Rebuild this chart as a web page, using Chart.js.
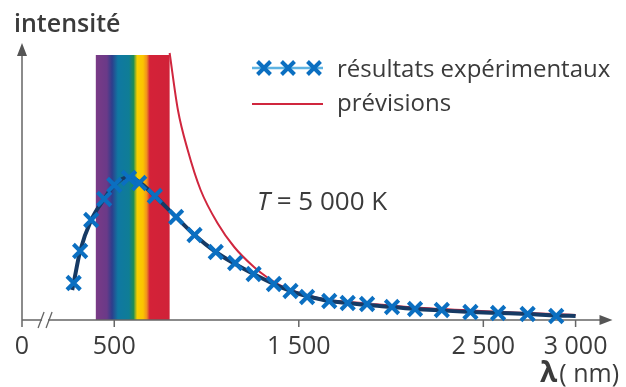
<!DOCTYPE html>
<html lang="fr">
<head>
<meta charset="utf-8">
<title>Rayonnement du corps noir</title>
<script src="https://cdn.jsdelivr.net/npm/chart.js@4.4.1/dist/chart.umd.min.js"></script>
<style>
  html, body { margin: 0; padding: 0; background: #fff; }
  #wrap { width: 626px; height: 387px; position: relative; }
</style>
</head>
<body>
<div id="wrap"><canvas id="c" width="626" height="387"></canvas></div>
<script>
// --- data (lambda in nm, intensity in arbitrary units) ---
const expLambda = [280, 315, 375, 445, 500, 580, 635, 720, 835, 935, 1050, 1155, 1255, 1365, 1455, 1545, 1665, 1765, 1870, 2005, 2130, 2275, 2430, 2580, 2740, 2895];
const expVals   = [37, 69, 100, 121, 135, 142, 137, 124, 103, 85, 68, 57, 46, 36, 29, 23, 19, 17, 16, 13, 11, 10, 8, 7, 6, 4];

const fitLambda = [272, 280, 315, 375, 445, 500, 580, 635, 720, 835, 935, 1050, 1155, 1255, 1365, 1455, 1545, 1665, 1765, 1870, 2005, 2130, 2275, 2430, 2580, 2740, 2895, 3000];
const fitVals   = [30, 37, 69, 100, 121, 135, 143, 138, 124, 103, 85, 68, 56, 46, 36, 29, 24, 19, 17, 15, 13, 11, 9.5, 8, 7, 6, 4.5, 4];

const predLambda = [800, 845, 898, 968, 1059, 1150, 1257, 1326, 1417, 1540, 1665, 1870, 2130, 2430, 2740, 3000];
const predVals   = [267, 210, 170, 130, 97, 73, 53, 43, 33, 25, 20, 16.5, 12.5, 9.5, 7, 5];

const spectrumRange = [400, 800];
const spectrumTop = 265;

const tickValues = [0, 500, 1500, 2500, 3000];
const tickLabels = ['0', '500', '1 500', '2 500', '3 000'];

const legendLabels = ['résultats expérimentaux', 'prévisions'];
const tempLabel = ['T', ' = 5 000 K'];

const pts = (xs, ys) => xs.map((x, i) => ({ x: x, y: ys[i] }));

const BLUE = '#0b6fc1', LIGHT = '#5eb3e2', NAVY = '#163a64', RED = '#d0263e', AXIS = '#666', TXT = '#3b3b3b';
const FONT = '"Open Sans", "Noto Sans", sans-serif';

// spectrum band, axes, break mark, ticks
const backdrop = {
    id: 'backdrop',
    beforeDatasetsDraw(chart) {
        const { ctx, scales: { x, y } } = chart;
        const x0 = x.getPixelForValue(spectrumRange[0]), x1 = x.getPixelForValue(spectrumRange[1]);
        const yt = y.getPixelForValue(spectrumTop), yb = y.getPixelForValue(0);
        const g = ctx.createLinearGradient(x0, 0, x1, 0);
        g.addColorStop(0.00, '#7a3a86');
        g.addColorStop(0.15, '#6a3a88');
        g.addColorStop(0.22, '#2d3e8c');
        g.addColorStop(0.30, '#0f78a2');
        g.addColorStop(0.45, '#0f7d96');
        g.addColorStop(0.51, '#1d8c55');
        g.addColorStop(0.56, '#f7d000');
        g.addColorStop(0.64, '#fcc400');
        g.addColorStop(0.69, '#f0901e');
        g.addColorStop(0.73, '#d42238');
        g.addColorStop(1.00, '#d02238');
        ctx.save();
        ctx.fillStyle = g;
        ctx.fillRect(x0, yt, x1 - x0, yb - yt);

        // axes
        const ax = x.getPixelForValue(0);
        ctx.strokeStyle = AXIS;
        ctx.lineWidth = 1.5;
        ctx.beginPath();
        ctx.moveTo(ax, yb + 7); ctx.lineTo(ax, chart.chartArea.top + 8);
        ctx.moveTo(ax, yb); ctx.lineTo(chart.chartArea.right - 8, yb);
        tickValues.forEach(v => {
            const px = x.getPixelForValue(v);
            ctx.moveTo(px, yb); ctx.lineTo(px, yb + 7);
        });
        ctx.stroke();
        ctx.fillStyle = '#555';
        ctx.beginPath();
        ctx.moveTo(ax, chart.chartArea.top + 3);
        ctx.lineTo(ax - 5, chart.chartArea.top + 16);
        ctx.lineTo(ax + 5, chart.chartArea.top + 16);
        ctx.closePath();
        ctx.moveTo(chart.chartArea.right, yb);
        ctx.lineTo(chart.chartArea.right - 13, yb - 5);
        ctx.lineTo(chart.chartArea.right - 13, yb + 5);
        ctx.closePath();
        ctx.fill();

        // axis break "//"
        const bx = x.getPixelForValue(125);
        ctx.fillStyle = '#fff';
        ctx.fillRect(bx - 3, yb - 2, 6, 4);
        ctx.strokeStyle = AXIS;
        ctx.lineWidth = 1.3;
        ctx.beginPath();
        ctx.moveTo(bx - 7, yb + 8); ctx.lineTo(bx - 1, yb - 8);
        ctx.moveTo(bx + 1, yb + 8); ctx.lineTo(bx + 7, yb - 8);
        ctx.stroke();

        // tick labels
        ctx.fillStyle = TXT;
        ctx.font = '25px ' + FONT;
        ctx.textAlign = 'center';
        ctx.textBaseline = 'alphabetic';
        tickValues.forEach((v, i) => ctx.fillText(tickLabels[i], x.getPixelForValue(v), 354));
        ctx.restore();
    },
    afterDraw(chart) {
        const { ctx } = chart;
        ctx.save();
        ctx.fillStyle = TXT;
        ctx.textBaseline = 'alphabetic';
        // axis titles
        ctx.textAlign = 'left';
        ctx.font = '600 25px ' + FONT;
        ctx.fillText('intensité', 14, 32);
        ctx.textAlign = 'right';
        ctx.font = '25px ' + FONT;
        ctx.fillText('( nm)', 619, 382);
        const w = ctx.measureText('( nm)').width;
        ctx.font = 'bold 28px ' + FONT;
        ctx.fillText('λ', 619 - w - 2, 382);

        // T = 5 000 K
        ctx.textAlign = 'left';
        ctx.font = 'italic 26px ' + FONT;
        ctx.fillText(tempLabel[0], 257, 210);
        const tw = ctx.measureText(tempLabel[0]).width;
        ctx.font = '26px ' + FONT;
        ctx.fillText(tempLabel[1], 257 + tw, 210);

        // legend
        const lx0 = 252, lx1 = 323, ly = [68, 104];
        ctx.lineWidth = 2.5;
        ctx.strokeStyle = LIGHT;
        ctx.beginPath(); ctx.moveTo(lx0, ly[0]); ctx.lineTo(lx1, ly[0]); ctx.stroke();
        ctx.strokeStyle = BLUE;
        ctx.lineWidth = 4;
        [264, 288, 314].forEach(cx => {
            ctx.beginPath();
            ctx.moveTo(cx - 6.5, ly[0] - 6.5); ctx.lineTo(cx + 6.5, ly[0] + 6.5);
            ctx.moveTo(cx - 6.5, ly[0] + 6.5); ctx.lineTo(cx + 6.5, ly[0] - 6.5);
            ctx.stroke();
        });
        ctx.strokeStyle = RED;
        ctx.lineWidth = 2;
        ctx.beginPath(); ctx.moveTo(lx0, ly[1]); ctx.lineTo(lx1, ly[1]); ctx.stroke();
        ctx.font = '24px ' + FONT;
        ctx.fillText(legendLabels[0], 337, 77);
        ctx.fillText(legendLabels[1], 337, 111);
        ctx.restore();
    }
};

new Chart(document.getElementById('c'), {
    type: 'line',
    data: {
        datasets: [
            { label: 'lien', data: pts(expLambda, expVals), borderColor: LIGHT, borderWidth: 2,
              pointRadius: 0, tension: 0.3, order: 3 },
            { label: 'ajustement', data: pts(fitLambda, fitVals), borderColor: NAVY, borderWidth: 4,
              pointRadius: 0, cubicInterpolationMode: 'monotone', order: 2 },
            { label: legendLabels[1], data: pts(predLambda, predVals), borderColor: RED, borderWidth: 2,
              pointRadius: 0, cubicInterpolationMode: 'monotone', order: 4 },
            { label: legendLabels[0], data: pts(expLambda, expVals), showLine: false,
              pointStyle: 'crossRot', pointRadius: 9.5, pointBorderWidth: 4,
              pointBorderColor: BLUE, pointBackgroundColor: BLUE, order: 0 }
        ]
    },
    options: {
        responsive: false,
        animation: false,
        events: [],
        layout: { padding: { left: 22, right: 6, top: 40, bottom: 67 } },
        scales: {
            x: { type: 'linear', min: 0, max: 3200, display: false },
            y: { min: 0, max: 280, display: false }
        },
        plugins: { legend: { display: false }, tooltip: { enabled: false } },
        clip: false
    },
    plugins: [backdrop]
});
</script>
</body>
</html>
